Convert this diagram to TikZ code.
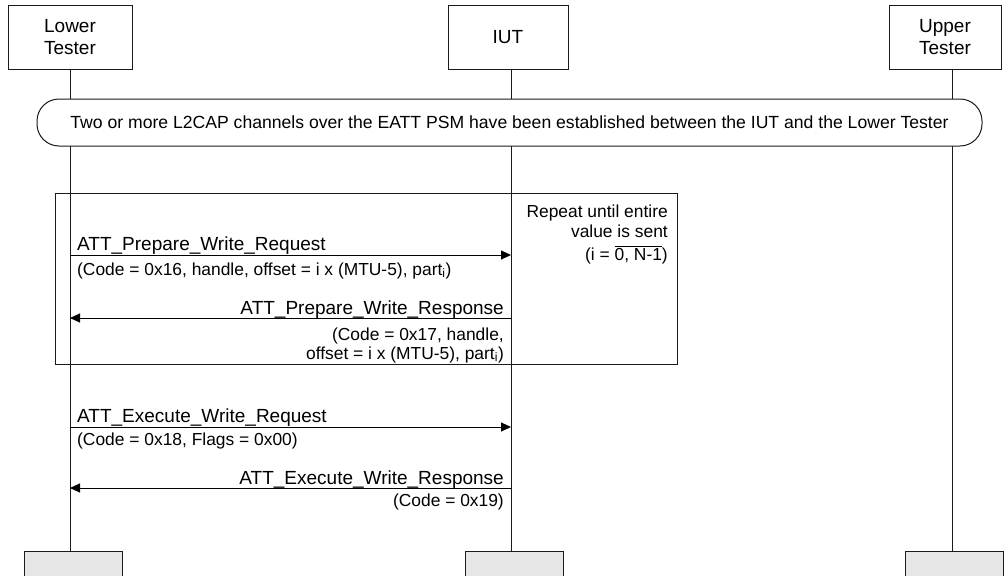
\documentclass[tikz,border=0pt]{standalone}
\usepackage{fontspec}
\setmainfont{Liberation Sans}
\usetikzlibrary{arrows.meta}
\definecolor{boxgray}{HTML}{E6E6E6}
\definecolor{linec}{HTML}{1A1A1A}
\begin{document}
\begin{tikzpicture}[x=1pt,y=-1pt,
  actor/.style={draw=linec, line width=1pt, fill=white, align=center, inner sep=0pt,
    minimum height=64pt, font=\fontsize{19}{22}\selectfont},
  endbox/.style={draw=linec, line width=1pt, fill=boxgray, inner sep=0pt, minimum height=40pt, minimum width=98pt},
  life/.style={draw=linec, line width=0.9pt},
  msg/.style={draw=black, line width=1pt, -{Triangle[length=10pt,width=9pt]}},
  lbl/.style={inner sep=0pt, font=\fontsize{19}{22}\selectfont},
  sub/.style={inner sep=0pt, font=\fontsize{17.4}{19}\selectfont},
  cond/.style={draw=linec, line width=1pt, fill=white, rounded corners=22pt, inner sep=0pt,
    font=\fontsize{17.6}{20}\selectfont},
  loopbox/.style={draw=linec, line width=1pt, inner sep=0pt}
]
\useasboundingbox (0,0) rectangle (1005,576);
\clip (0,0) rectangle (1005,576);

% lifeline x positions
\coordinate (L) at (70,0);
\coordinate (I) at (511,0);
\coordinate (U) at (952,0);

% actors
\node[actor, minimum width=124pt] (lt) at (70,37) {Lower\\Tester};
\node[actor, minimum width=120pt] (iut) at (508,37) {IUT};
\node[actor, minimum width=112pt] (ut) at (945,37) {Upper\\Tester};

\node[endbox] (ltb) at (73,571) {};
\node[endbox] (iutb) at (514,571) {};
\node[endbox] (utb) at (954,571) {};

% lifelines
\draw[life] (lt.south -| L) -- (ltb.north -| L);
\draw[life] (iut.south -| I) -- (iutb.north -| I);
\draw[life] (ut.south -| U) -- (utb.north -| U);

% condition
\node[cond, minimum width=945pt, minimum height=47pt] (pre) at (509.5,122.5)
  {Two or more L2CAP channels over the EATT PSM have been established between the IUT and the Lower Tester};

% loop box
\node[loopbox, minimum width=622pt, minimum height=171pt] (loop) at (366,278.5) {};
\node[sub, anchor=base east] (rep1) at (668,217) {Repeat until entire};
\node[sub, anchor=base east] (rep2) at (668,237) {value is sent};
\node[sub, anchor=base east] (rep3) at (668,260) {(i = $\overline{\hbox{0, N-1}}$)};

% message 1
\coordinate (m1a) at (70,255);
\coordinate (m1b) at (511,255);
\draw[msg] (m1a) -- (m1b);
\node[lbl, anchor=base west] (m1l) at (77,250) {ATT\_Prepare\_Write\_Request};
\node[sub, anchor=base west] (m1s) at (77,275) {(Code = 0x16, handle, offset = i x (MTU-5), part\textsubscript{i})};

% message 2
\coordinate (m2a) at (511,318);
\coordinate (m2b) at (70,318);
\draw[msg] (m2a) -- (m2b);
\node[lbl, anchor=base east] (m2l) at (504,314) {ATT\_Prepare\_Write\_Response};
\node[sub, anchor=base east] (m2s1) at (504,340) {(Code = 0x17, handle,};
\node[sub, anchor=base east] (m2s2) at (504,359) {offset = i x (MTU-5), part\textsubscript{i})};

% message 3
\coordinate (m3a) at (70,427);
\coordinate (m3b) at (511,427);
\draw[msg] (m3a) -- (m3b);
\node[lbl, anchor=base west] (m3l) at (77,422) {ATT\_Execute\_Write\_Request};
\node[sub, anchor=base west] (m3s) at (77,445) {(Code = 0x18, Flags = 0x00)};

% message 4
\coordinate (m4a) at (511,488);
\coordinate (m4b) at (70,488);
\draw[msg] (m4a) -- (m4b);
\node[lbl, anchor=base east] (m4l) at (504,484) {ATT\_Execute\_Write\_Response};
\node[sub, anchor=base east] (m4s) at (504,506) {(Code = 0x19)};
\end{tikzpicture}
\end{document}
